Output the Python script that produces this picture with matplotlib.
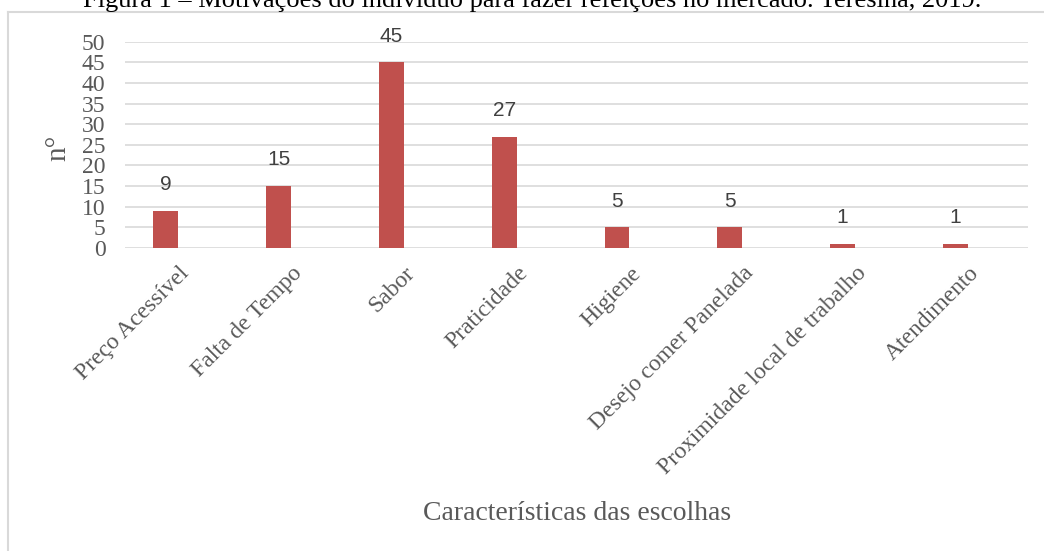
import numpy as np
import matplotlib
matplotlib.use("Agg")
import matplotlib.pyplot as plt
from matplotlib.lines import Line2D
from matplotlib.transforms import ScaledTranslation

# dados do gráfico
categorias = ["Preço Acessível", "Falta de Tempo", "Sabor", "Praticidade", "Higiene",
              "Desejo comer Panelada", "Proximidade local de trabalho", "Atendimento"]
valores = [9, 15, 45, 27, 5, 5, 1, 1]
ticks_y = [0, 5, 10, 15, 20, 25, 30, 35, 40, 45, 50]

titulo = "Figura 1 – Motivações do indivíduo para fazer refeições no mercado. Teresina, 2019."
rotulo_x = "Características das escolhas"
rotulo_y = "n°"

cor_barra = "#C0504D"
cinza_texto = "#595959"
cinza_grade = "#D9D9D9"
serif = "Liberation Serif"

W, H = 1044, 551
fig = plt.figure(figsize=(W / 100, H / 100), dpi=100)
fig.patch.set_facecolor("white")

# moldura do gráfico (borda cinza clara)
fig.add_artist(Line2D([8 / W, 1], [1 - 12 / H, 1 - 12 / H], color=cinza_grade, lw=1.5,
                      transform=fig.transFigure))
fig.add_artist(Line2D([8 / W, 8 / W], [0, 1 - 12 / H], color=cinza_grade, lw=1.5,
                      transform=fig.transFigure))

# título (cortado no topo da imagem)
fig.text(532 / W, 1 - 7 / H, titulo, ha="center", va="baseline", fontsize=19,
         family=serif, color="black")

ax = fig.add_axes([125 / W, 1 - 248 / H, 903 / W, (248 - 41.7) / H])
x = np.arange(len(categorias))
ax.bar(x, valores, width=0.22, color=cor_barra, zorder=3)

ax.set_ylim(0, 50)
ax.set_xlim(-0.361, 7.643)
ax.set_yticks(ticks_y)
ax.yaxis.grid(True, color=cinza_grade, lw=1.2, zorder=0)
ax.set_axisbelow(True)
for s in ax.spines.values():
    s.set_visible(False)
ax.tick_params(axis="both", length=0)
ax.tick_params(axis="y", pad=14, labelsize=17, labelcolor=cinza_texto)
for t in ax.get_yticklabels():
    t.set_family(serif)

ax.set_xticks(x)
ax.set_xticklabels(categorias, rotation=45, ha="right", va="top", rotation_mode="anchor",
                   fontsize=17, color=cinza_texto, family=serif)
desloc = ScaledTranslation(13 / 100, -10 / 100, fig.dpi_scale_trans)
for t in ax.get_xticklabels():
    t.set_transform(t.get_transform() + desloc)

# rótulos de dados
for xi, v in zip(x, valores):
    ax.annotate(str(v), (xi, v), xytext=(0, 12), textcoords="offset points",
                ha="center", va="bottom", fontsize=15, color="#404040",
                family="Liberation Sans")

fig.text(577 / W, 1 - 513 / H, rotulo_x, ha="center", va="center", fontsize=20,
         family=serif, color=cinza_texto)
fig.text(58 / W, 1 - 148 / H, rotulo_y, ha="center", va="center", rotation=90,
         fontsize=21, family=serif, color=cinza_texto)

fig.savefig("out.png", dpi=100)
